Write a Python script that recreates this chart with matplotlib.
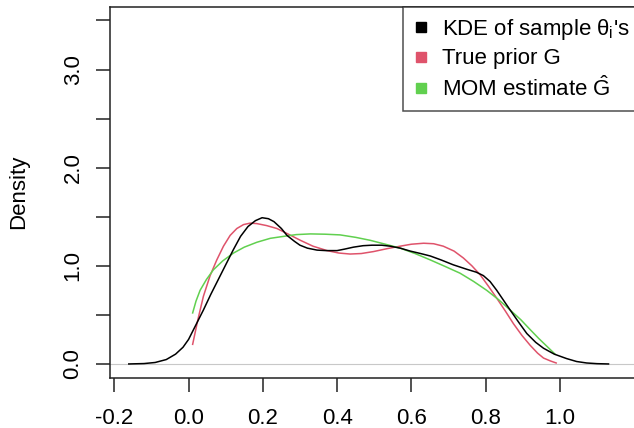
import matplotlib
matplotlib.use("Agg")
import matplotlib.pyplot as plt
from matplotlib.lines import Line2D

plt.rcParams['font.family'] = ['Liberation Sans', 'DejaVu Sans']
plt.rcParams['mathtext.fontset'] = 'custom'
plt.rcParams['mathtext.rm'] = 'Liberation Sans'
plt.rcParams['mathtext.it'] = 'Liberation Sans'

# values
kde_x = [-0.161, -0.12, -0.09, -0.06, -0.035, -0.015, 0.0, 0.02, 0.04, 0.06,
         0.08, 0.10, 0.12, 0.14, 0.16, 0.18, 0.198, 0.215, 0.23, 0.25,
         0.265, 0.285, 0.30, 0.32, 0.346, 0.37, 0.40, 0.42, 0.444, 0.47,
         0.494, 0.52, 0.543, 0.57, 0.597, 0.625, 0.651, 0.68, 0.713, 0.749,
         0.775, 0.794, 0.812, 0.830, 0.848, 0.866, 0.89, 0.911, 0.935, 0.956,
         0.985, 1.018, 1.045, 1.072, 1.10, 1.131]
kde_y = [0.0, 0.004, 0.015, 0.045, 0.10, 0.17, 0.25, 0.40, 0.55, 0.71,
         0.86, 1.01, 1.16, 1.30, 1.40, 1.46, 1.49, 1.48, 1.45, 1.38,
         1.31, 1.25, 1.21, 1.18, 1.16, 1.155, 1.155, 1.17, 1.19, 1.205,
         1.21, 1.21, 1.20, 1.18, 1.15, 1.125, 1.10, 1.06, 1.01, 0.965,
         0.935, 0.90, 0.84, 0.75, 0.65, 0.55, 0.42, 0.31, 0.22, 0.16,
         0.10, 0.055, 0.025, 0.01, 0.003, 0.0]

prior_x = [0.011, 0.025, 0.040, 0.058, 0.076, 0.094, 0.112, 0.130, 0.148, 0.166,
           0.184, 0.21, 0.238, 0.27, 0.301, 0.335, 0.373, 0.405, 0.435, 0.465,
           0.498, 0.535, 0.570, 0.60, 0.633, 0.66, 0.686, 0.715, 0.740, 0.763,
           0.785, 0.808, 0.830, 0.853, 0.875, 0.898, 0.920, 0.940, 0.956, 0.975, 0.990]
prior_y = [0.20, 0.45, 0.69, 0.90, 1.06, 1.20, 1.31, 1.38, 1.42, 1.435,
           1.43, 1.41, 1.38, 1.32, 1.26, 1.20, 1.155, 1.13, 1.12, 1.125,
           1.145, 1.175, 1.20, 1.22, 1.23, 1.225, 1.20, 1.15, 1.08, 1.00,
           0.91, 0.79, 0.67, 0.54, 0.41, 0.29, 0.19, 0.11, 0.06, 0.03, 0.01]

mom_x = [0.011, 0.02, 0.031, 0.048, 0.067, 0.092, 0.121, 0.15, 0.184, 0.22,
         0.256, 0.29, 0.328, 0.368, 0.408, 0.45, 0.489, 0.53, 0.570, 0.61,
         0.651, 0.69, 0.731, 0.768, 0.803, 0.835, 0.866, 0.895, 0.920, 0.943,
         0.965, 0.987]
mom_y = [0.52, 0.64, 0.75, 0.86, 0.96, 1.05, 1.13, 1.19, 1.24, 1.28,
         1.30, 1.318, 1.325, 1.322, 1.315, 1.29, 1.26, 1.22, 1.18, 1.125,
         1.06, 0.995, 0.925, 0.84, 0.75, 0.655, 0.55, 0.45, 0.35, 0.26,
         0.18, 0.10]

labels = [r"KDE of sample $\theta_i$'s", "True prior G", r"MOM estimate $\hat{G}$"]
colors = ['black', '#DF536B', '#61D04F']

W, H = 634, 428
fig = plt.figure(figsize=(W / 100, H / 100), dpi=100)
# plot region: left 110px, top 6.7px, bottom 377.7px, right runs past the image edge
ax = fig.add_axes([110 / W, 1 - 377.7 / H, 530 / W, (377.7 - 6.7) / H])

ax.axhline(0, color='#C8C8C8', lw=0.8, zorder=1)
ax.plot(kde_x, kde_y, color=colors[0], lw=1.1, zorder=3)
ax.plot(prior_x, prior_y, color=colors[1], lw=1.1, zorder=2)
ax.plot(mom_x, mom_y, color=colors[2], lw=1.1, zorder=2)

ax.set_xlim(-0.2116, 1.2158)
ax.set_ylim(-0.14, 3.64)

ax.set_xticks([-0.2, 0.0, 0.2, 0.4, 0.6, 0.8, 1.0])
ax.set_xticklabels(['-0.2', '0.0', '0.2', '0.4', '0.6', '0.8', '1.0'])
ax.set_yticks([0, 0.5, 1.0, 1.5, 2.0, 2.5, 3.0, 3.5])
ax.set_yticklabels(['0.0', '', '1.0', '', '2.0', '', '3.0', ''], rotation=90, va='center')

for s in ax.spines.values():
    s.set_color('#222222')
    s.set_linewidth(1.1)
ax.tick_params(axis='both', length=10, width=1.1, color='#222222', labelsize=16)
ax.tick_params(axis='x', pad=12)
ax.tick_params(axis='y', pad=9)

fig.text(18.3 / W, 1 - 192.2 / H, 'Density', rotation=90, ha='center', va='center', fontsize=16)

handles = [Line2D([], [], marker='s', linestyle='none', color=c, markersize=7) for c in colors]
leg = ax.legend(handles, labels, loc='upper right', bbox_to_anchor=(1, 1), borderaxespad=0,
                fontsize=16, frameon=True, fancybox=False, edgecolor='#222222',
                handlelength=0.7, handletextpad=0.6, labelspacing=0.3, borderpad=0.45)
leg.get_frame().set_linewidth(1.1)

fig.savefig('out.png', dpi=100)
